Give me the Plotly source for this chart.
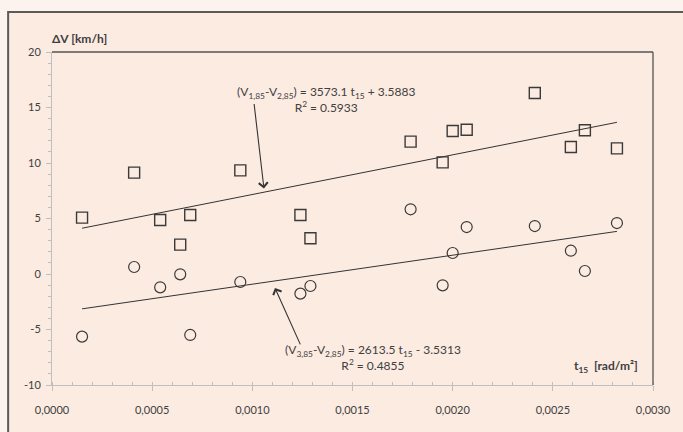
import numpy as np
import plotly.graph_objects as go

# ---------------- data ----------------
t15_a = [0.00015, 0.00041, 0.00054, 0.00064, 0.00069, 0.00094, 0.00124, 0.00129,
         0.00179, 0.00195, 0.00200, 0.00207, 0.00241, 0.00259, 0.00266, 0.00282]
dv_12 = [5.08, 9.13, 4.87, 2.65, 5.32, 9.34, 5.32, 3.22,
         11.93, 10.06, 12.88, 13.0, 16.3, 11.44, 12.95, 11.32]
dv_32 = [-5.64, 0.63, -1.2, -0.03, -5.49, -0.72, -1.77, -1.08,
         5.83, -1.02, 1.89, 4.23, 4.32, 2.1, 0.27, 4.59]

fit_slope = [3573.1, 2613.5]
fit_icpt = [3.5883, -3.5313]
fit_r2 = [0.5933, 0.4855]

y_tickvals = [-10, -5, 0, 5, 10, 15, 20]
y_ticktext = ["-10", "-5", "0", "5", "10", "15", "20"]

# ---------------- style ----------------
OUTER_BG = "#fdf3ee"
INNER_BG = "#fcebe1"
INK = "#404040"
AXIS = "#bfbfbf"
FONT = "Lato"

fig = go.Figure()

xs = np.array([min(t15_a), max(t15_a)])
for s, c in zip(fit_slope, fit_icpt):
    fig.add_trace(go.Scatter(x=xs, y=s * xs + c, mode="lines",
                             line=dict(color="#333333", width=1), showlegend=False,
                             hoverinfo="skip"))

fig.add_trace(go.Scatter(x=t15_a, y=dv_12, mode="markers", showlegend=False,
                         marker=dict(symbol="square-open", size=11,
                                     color="#3a3a3a", line=dict(width=1.4, color="#3a3a3a"))))
fig.add_trace(go.Scatter(x=t15_a, y=dv_32, mode="markers", showlegend=False,
                         marker=dict(symbol="circle-open", size=11,
                                     color="#3a3a3a", line=dict(width=1.2, color="#3a3a3a"))))

# outer chart box (left/top border visible, rest beyond the window)
fig.add_shape(type="rect", xref="paper", yref="paper", x0=-0.073, x1=1.08, y0=-0.2, y1=1.12,
              fillcolor=INNER_BG, line=dict(color="#5a5a5a", width=2), layer="below")
# plot-area frame top and right
fig.add_shape(type="line", xref="paper", yref="paper", x0=0, x1=1, y0=1, y1=1,
              line=dict(color="#555555", width=1.3))
fig.add_shape(type="line", xref="paper", yref="paper", x0=1, x1=1, y0=0, y1=1,
              line=dict(color="#555555", width=1.3))

# equations
eq1 = ("(V<sub>1,85</sub>-V<sub>2,85</sub>) = %.1f t<sub>15</sub> + %.4f<br>R<sup>2</sup> = %.4f"
       % (fit_slope[0], fit_icpt[0], fit_r2[0]))
eq2 = ("(V<sub>3,85</sub>-V<sub>2,85</sub>) = %.1f t<sub>15</sub> - %.4f<br>R<sup>2</sup> = %.4f"
       % (fit_slope[1], abs(fit_icpt[1]), fit_r2[1]))
fig.add_annotation(x=0.00137, y=15.7, text=eq1, showarrow=False, align="center",
                   font=dict(family=FONT, size=12, color=INK), xanchor="center", yanchor="middle")
fig.add_annotation(x=0.00160, y=-7.5, text=eq2, showarrow=False, align="center",
                   font=dict(family=FONT, size=12, color=INK), xanchor="center", yanchor="middle")
# arrows
fig.add_annotation(x=0.001058, y=7.7, text="", showarrow=True, arrowhead=4, arrowsize=1.6,
                   arrowwidth=1.1, arrowcolor="#333333", ax=-10, ay=-86)
fig.add_annotation(x=0.001113, y=-1.25, text="", showarrow=True, arrowhead=4, arrowsize=1.6,
                   arrowwidth=1.1, arrowcolor="#333333", ax=26, ay=58)

# axis titles
fig.add_annotation(xref="paper", yref="paper", x=-0.004, y=1.042, text="<b>ΔV [km/h]</b>",
                   showarrow=False, xanchor="left", yanchor="middle",
                   font=dict(family=FONT, size=12, color=INK))
fig.add_annotation(xref="paper", yref="paper", x=0.978, y=0.057,
                   text="<b>t<sub>15</sub>  [rad/m²]</b>",
                   showarrow=False, xanchor="right", yanchor="middle",
                   font=dict(family=FONT, size=12, color=INK))

fig.update_layout(
    width=683, height=432,
    margin=dict(l=52, r=28, t=52, b=47),
    paper_bgcolor=OUTER_BG, plot_bgcolor=INNER_BG,
    separators=",.",
    font=dict(family=FONT, size=11, color=INK),
    xaxis=dict(range=[0, 0.003], dtick=0.0005, tick0=0, tickformat=".4f",
               showgrid=False, zeroline=False, showline=True, linecolor=AXIS, linewidth=1,
               ticks="outside", ticklen=5, tickcolor=AXIS, ticklabelstandoff=10,
               tickfont=dict(family=FONT, size=11, color=INK),
               minor=dict(dtick=0.0001, tick0=0, ticks="inside", ticklen=3, tickcolor=AXIS,
                          showgrid=False)),
    yaxis=dict(range=[-10, 20], tickmode="array", tickvals=y_tickvals, ticktext=y_ticktext,
               showgrid=False, zeroline=False, showline=True, linecolor=AXIS, linewidth=1,
               ticks="outside", ticklen=5, tickcolor=AXIS, ticklabelstandoff=3,
               tickfont=dict(family=FONT, size=11, color=INK),
               minor=dict(dtick=1, tick0=0, ticks="outside", ticklen=3, tickcolor=AXIS,
                          showgrid=False)),
)

fig.write_html("out.html")
